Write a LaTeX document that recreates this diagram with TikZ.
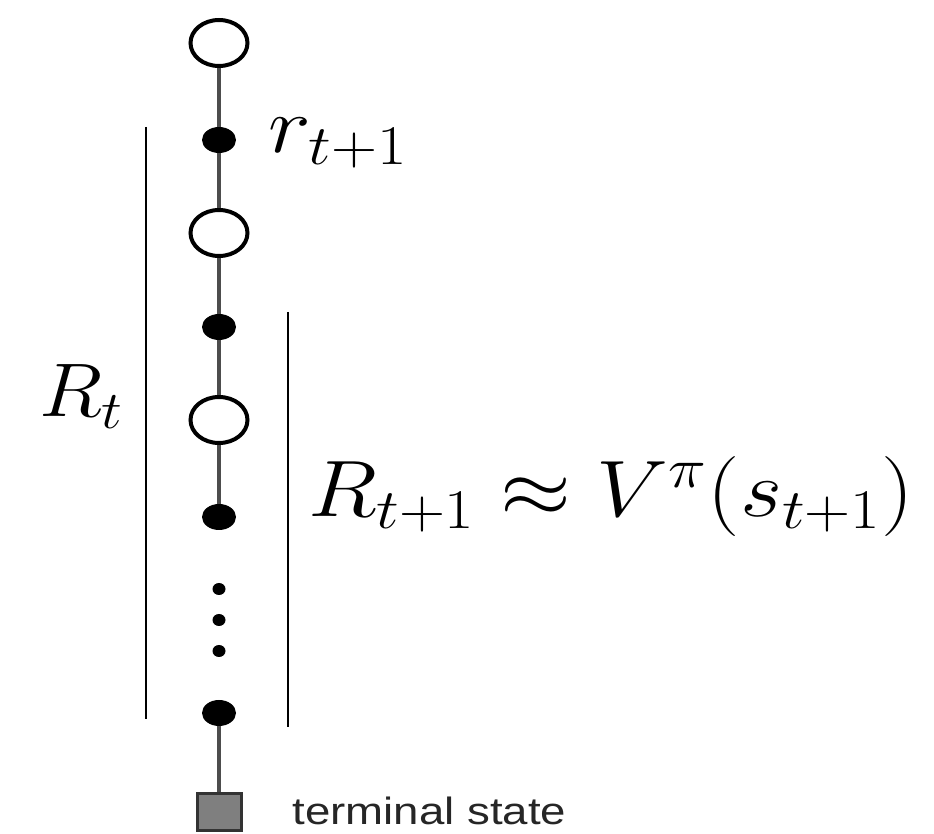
\RequirePackage{fix-cm}
\documentclass[tikz,border=0pt]{standalone}
\usepackage{fontspec}
\newfontfamily\labelfont{Liberation Sans}
\usetikzlibrary{shapes.geometric}
\definecolor{edgegray}{HTML}{4D4D4D}
\definecolor{termgray}{HTML}{7F7F7F}

\begin{document}
\begin{tikzpicture}[x=0.5pt,y=-0.5pt,
  state/.style={ellipse,draw=black,line width=2pt,fill=white,minimum width=28.5pt,minimum height=23pt,inner sep=0pt},
  action/.style={ellipse,fill=black,minimum width=17pt,minimum height=13pt,inner sep=0pt},
  ddot/.style={ellipse,fill=black,minimum width=6.5pt,minimum height=6pt,inner sep=0pt},
  term/.style={rectangle,draw=black!80,line width=1.5pt,fill=termgray,minimum width=22pt,minimum height=18.5pt,inner sep=0pt},
  edge/.style={edgegray,line width=2.2pt},
  bar/.style={black,line width=1pt},
  mathlbl/.style={font=\fontsize{40}{48}\selectfont,xscale=1.14,inner sep=0pt}]
  \useasboundingbox (0,0) rectangle (934,834);

  % backup chain
  \node[state] (s1) at (219,43) {};
  \node[action] (a1) at (219,140) {};
  \node[state] (s2) at (219,233) {};
  \node[action] (a2) at (219,327) {};
  \node[state] (s3) at (219,420) {};
  \node[action] (a3) at (219,517) {};
  \foreach \i/\y in {1/589,2/620,3/651}{\node[ddot] (d\i) at (219,\y) {};}
  \node[action] (a4) at (219,713) {};
  \node[term] (t) at (219,812) {};
  \draw[edge] (s1) -- (a1) -- (s2) -- (a2) -- (s3) -- (a3);
  \draw[edge] (a4) -- (t);

  % return bars
  \coordinate (lt) at (146,127);
  \coordinate (lb) at (146,719);
  \coordinate (rt) at (288,312);
  \coordinate (rb) at (288,727);
  \draw[bar] (lt) -- (lb);
  \draw[bar] (rt) -- (rb);

  \node[mathlbl,anchor=base west] (rlbl) at (268,153) {$r_{t+1}$};
  \node[mathlbl,font=\fontsize{38}{46}\selectfont,xscale=0.965,anchor=base east] (Rlbl) at (124,417) {$R_t$};
  \node[mathlbl,anchor=base west] (vlbl) at (308,517) {$R_{t+1}\approx V^{\pi}(s_{t+1})$};
  \node[font=\labelfont\fontsize{19}{23}\selectfont,xscale=1.2,text=black!85,anchor=base west,inner sep=0pt] (tlbl) at (292,825) {terminal state};
\end{tikzpicture}
\end{document}
